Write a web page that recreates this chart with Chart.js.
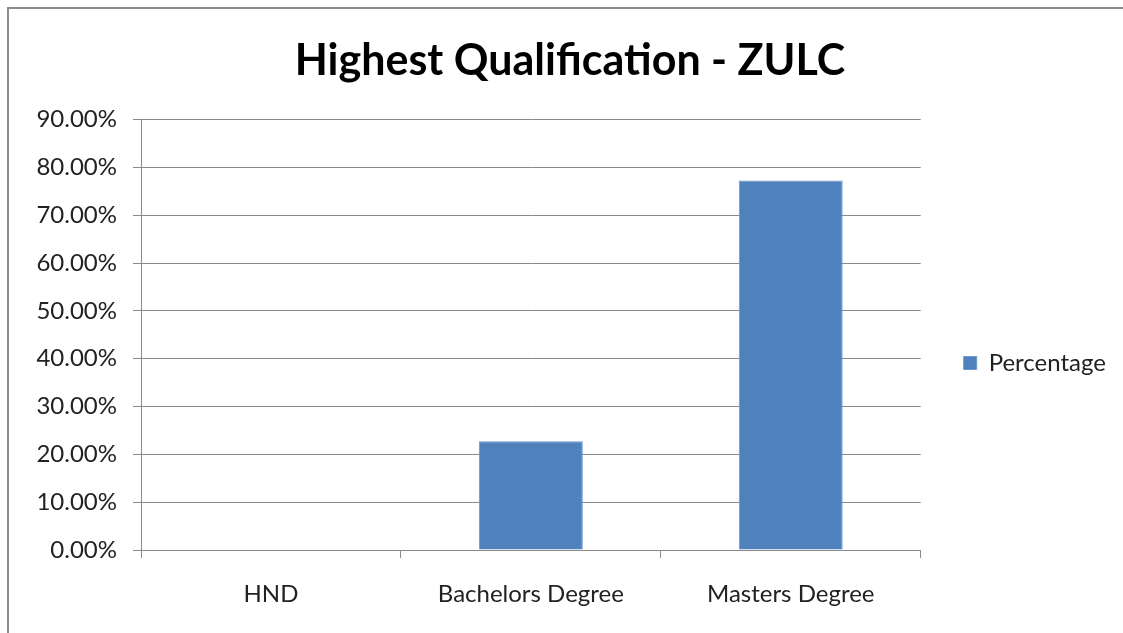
<!DOCTYPE html>
<html>
<head>
<meta charset="utf-8">
<script src="https://cdn.jsdelivr.net/npm/chart.js@4"></script>
<style>
  html, body { margin: 0; padding: 0; background: #fff; overflow: hidden; }
  #wrap { position: relative; width: 1123px; height: 633px; }
  #frame {
    position: absolute; left: 7px; top: 7px; width: 1200px; height: 700px;
    border-left: 2px solid #8c8c8c; border-top: 2px solid #8c8c8c;
    pointer-events: none;
  }
  canvas { position: absolute; left: 0; top: 0; }
</style>
</head>
<body>
<div id="wrap">
  <canvas id="chart" width="1123" height="633"></canvas>
  <div id="frame"></div>
</div>
<script>
// data
const categories = ["HND", "Bachelors Degree", "Masters Degree"];
const percentage = [0, 22.73, 77.27];
const yMax = 90;
const yStep = 10;

const font = "Lato, 'Open Sans', sans-serif";
const gridColor = "#8a8a8a";

Chart.defaults.font.family = font;
Chart.defaults.color = "#222";

const ctx = document.getElementById("chart").getContext("2d");
new Chart(ctx, {
  type: "bar",
  data: {
    labels: categories,
    datasets: [{
      label: "Percentage",
      data: percentage,
      backgroundColor: "#4f81bd",
      borderColor: "#6d96c9",
      borderWidth: 1,
      categoryPercentage: 1,
      barPercentage: 0.4,
    }],
  },
  options: {
    responsive: false,
    animation: false,
    layout: { padding: { top: 20, right: 7, bottom: 0, left: 24 } },
    plugins: {
      title: {
        display: true,
        text: "Highest Qualification - ZULC",
        font: { size: 43, weight: "bold" },
        color: "#000",
        padding: { top: 15.5, bottom: 32.5 },
      },
      legend: {
        position: "right",
        fullSize: false,
        // empty legend title only pushes the entry down a bit
        title: { display: true, text: "", padding: { top: 21, bottom: 21 } },
        labels: {
          boxWidth: 13,
          boxHeight: 13,
          padding: 43,
          font: { size: 24 },
          color: "#222",
        },
      },
      tooltip: { enabled: false },
    },
    scales: {
      x: {
        grid: {
          drawOnChartArea: false,
          drawTicks: true,
          tickLength: 8,
          color: gridColor,
        },
        border: { color: gridColor, width: 1 },
        ticks: { font: { size: 24 }, padding: 22, color: "#222" },
        afterFit: (scale) => { scale.height = 83; },
      },
      y: {
        min: 0,
        max: yMax,
        grid: { color: gridColor, tickLength: 8 },
        border: { color: gridColor, width: 1 },
        ticks: {
          stepSize: yStep,
          font: { size: 24 },
          padding: 16,
          color: "#222",
          callback: (v) => v.toFixed(2) + "%",
        },
        afterFit: (scale) => { scale.width = 117; },
      },
    },
  },
});
</script>
</body>
</html>
